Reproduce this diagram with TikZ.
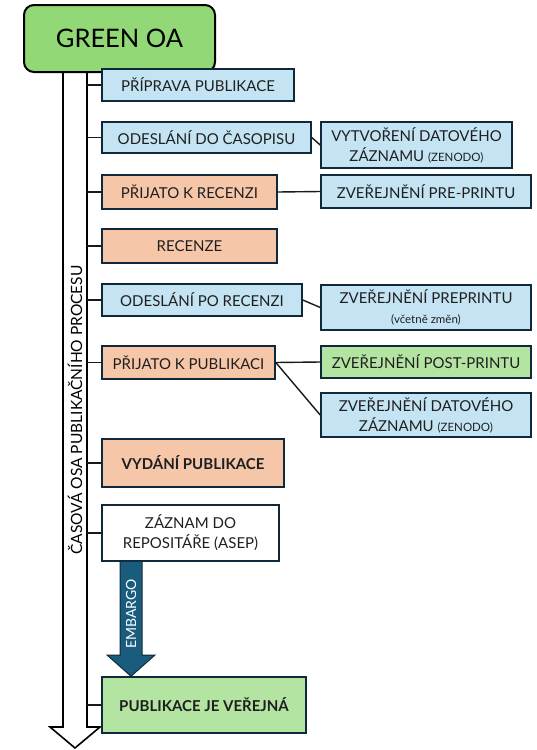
\documentclass[tikz,border=0pt]{standalone}
\usepackage{fontspec}
\setmainfont{Lato}
\definecolor{oagreen}{HTML}{92D877}
\definecolor{paleblue}{HTML}{C4E4F4}
\definecolor{peach}{HTML}{F6C6A9}
\definecolor{palegreen}{HTML}{B4E4A2}
\definecolor{navy}{HTML}{10293A}
\definecolor{embblue}{HTML}{1A5C7E}
\newcommand{\smalltxt}[1]{{\fontsize{11.5}{14}\selectfont #1}}

\begin{document}
\begin{tikzpicture}[x=1pt, y=-1pt,
  box/.style = {draw=navy, line width=1.6pt, inner sep=0pt, align=center, text=black!88, font=\fontsize{15}{20}\selectfont},
  bluebox/.style = {box, fill=paleblue},
  peachbox/.style = {box, fill=peach},
  greenbox/.style = {box, fill=palegreen},
  tick/.style = {line width=1.6pt, black!90},
  link/.style = {line width=1.4pt, black!90},
  ]
\useasboundingbox (0, 0) rectangle (536, 750);

% Time axis
\draw[line width=1.6pt, fill=white] (63, 72) -- (63, 727) -- (50, 727) -- (75, 748) -- (100, 727) -- (87, 727) -- (87, 72);
\coordinate (axis) at (87, 0);
\node[rotate=90, font=\fontsize{15.5}{18}\selectfont] (timetext) at (75, 410) {ČASOVÁ OSA PUBLIKAČNÍHO PROCESU};

\node[draw=black, line width=2pt, fill=oagreen, rounded corners=10pt, minimum width=191pt, minimum height=67pt, font=\fontsize{25.5}{30}\selectfont] (green) at (119.5, 38.5) {GREEN OA};

% Steps of the process
\node[bluebox, minimum width=192pt, minimum height=32pt] (prip) at (198, 85) {PŘÍPRAVA PUBLIKACE};
\node[bluebox, minimum width=209pt, minimum height=31pt] (odes) at (206.5, 137.5) {ODESLÁNÍ DO ČASOPISU};
\node[peachbox, minimum width=175pt, minimum height=34pt] (prij) at (189.5, 192) {PŘIJATO K RECENZI};
\node[peachbox, minimum width=175pt, minimum height=34pt] (rec) at (189.5, 246) {RECENZE};
\node[bluebox, minimum width=200pt, minimum height=32pt] (odpo) at (202, 300) {ODESLÁNÍ PO RECENZI};
\node[peachbox, minimum width=173pt, minimum height=33pt] (prijpub) at (188.5, 362.5) {PŘIJATO K PUBLIKACI};
\node[peachbox, minimum width=182pt, minimum height=48pt, font=\fontsize{15}{20}\selectfont\bfseries] (vyd) at (193, 463) {VYDÁNÍ PUBLIKACE};
\node[box, fill=white, minimum width=177pt, minimum height=56pt] (zaz) at (190.5, 533) {ZÁZNAM DO\\REPOSITÁŘE (ASEP)};
\node[greenbox, minimum width=204pt, minimum height=56pt, font=\fontsize{15}{20}\selectfont\bfseries] (verej) at (204, 705) {PUBLIKACE JE VEŘEJNÁ};

% Ticks from the axis
\draw[tick] (axis |- prip.west) -- (prip.west);
\draw[tick] (axis |- odes.west) -- (odes.west);
\draw[tick] (axis |- prij.west) -- (prij.west);
\draw[tick] (axis |- rec.west) -- (rec.west);
\draw[tick] (axis |- odpo.west) -- (odpo.west);
\draw[tick] (axis |- prijpub.west) -- (prijpub.west);
\draw[tick] (axis |- vyd.west) -- (vyd.west);
\draw[tick] (axis |- zaz.west) -- (zaz.west);
\draw[tick] (axis |- verej.west) -- (verej.west);

% Parallel steps
\node[bluebox, minimum width=191pt, minimum height=46pt] (datz) at (416.5, 145) {VYTVOŘENÍ DATOVÉHO\\ZÁZNAMU \smalltxt{(ZENODO)}};
\node[bluebox, minimum width=210pt, minimum height=33pt] (pre) at (426, 191.5) {ZVEŘEJNĚNÍ PRE-PRINTU};
\node[bluebox, minimum width=210pt, minimum height=45pt] (prep) at (426, 307.5) {ZVEŘEJNĚNÍ PREPRINTU\\\smalltxt{(včetně změn)}};
\node[greenbox, minimum width=210pt, minimum height=32pt] (post) at (426, 362) {ZVEŘEJNĚNÍ POST-PRINTU};
\node[bluebox, minimum width=210pt, minimum height=44pt] (datz2) at (426, 415) {ZVEŘEJNĚNÍ DATOVÉHO\\ZÁZNAMU \smalltxt{(ZENODO)}};

\draw[link] (odes.east) -- (datz.west);
\draw[link] (prij.east) -- (pre.west);
\draw[link] (odpo.east) -- (prep.west);
\draw[link] (prijpub.east) -- (post.west);
\draw[link] (prijpub.east) -- (datz2.west);

% Embargo
\draw[draw=navy, line width=1pt, fill=embblue] (zaz.south -| 120, 0) -- (120, 655) -- (107, 655) -- (verej.north -| 131, 0) -- (155, 655) -- (142, 655) -- (zaz.south -| 142, 0);
\node[rotate=90, text=white, font=\fontsize{14}{17}\selectfont] (embargo) at (131, 614) {EMBARGO};

\end{tikzpicture}
\end{document}
